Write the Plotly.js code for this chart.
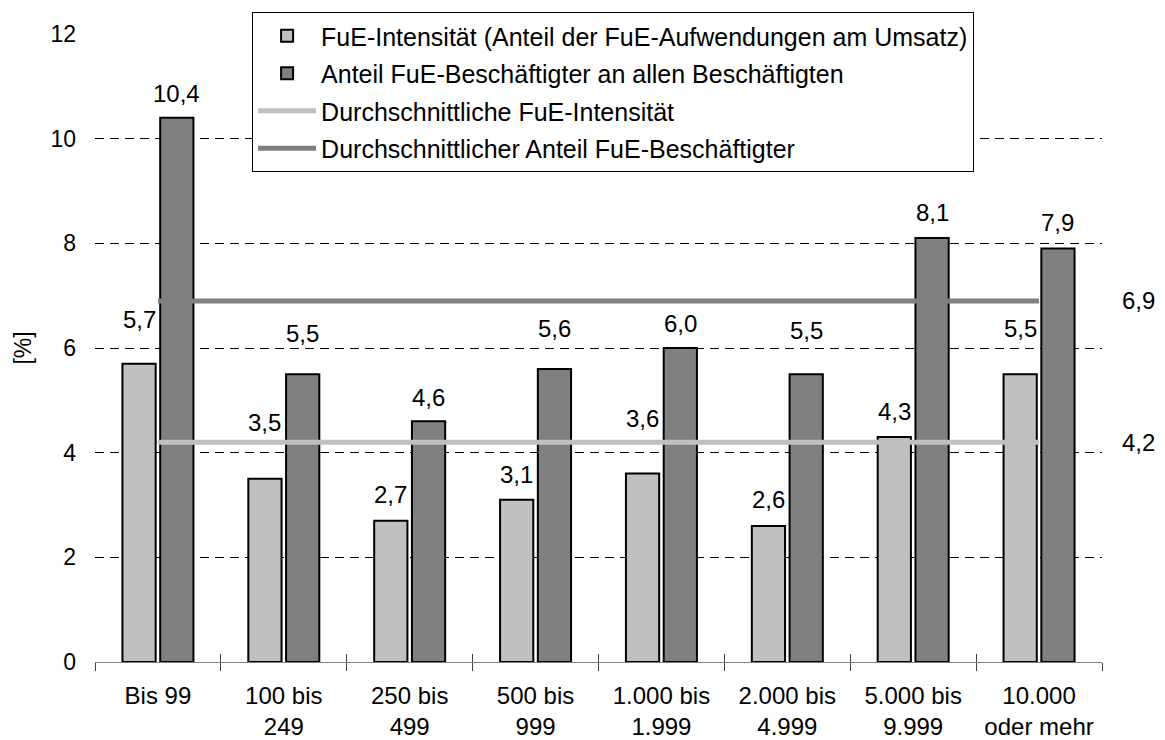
<!DOCTYPE html>
<html>
<head>
<meta charset="utf-8">
<script src="https://cdn.plot.ly/plotly-3.0.1.min.js"></script>
<style>html,body{margin:0;padding:0;background:#fff;}#chart{width:1165px;height:740px;}</style>
</head>
<body>
<div id="chart"></div>
<script>
// ---- data ----
const categories = ["Bis 99", "100 bis<br>249", "250 bis<br>499", "500 bis<br>999", "1.000 bis<br>1.999", "2.000 bis<br>4.999", "5.000 bis<br>9.999", "10.000<br>oder mehr"];
const intensity = [5.7, 3.5, 2.7, 3.1, 3.6, 2.6, 4.3, 5.5];
const staffShare = [10.4, 5.5, 4.6, 5.6, 6.0, 5.5, 8.1, 7.9];
const avgIntensity = 4.2;
const avgStaffShare = 6.9;
const seriesNames = [
  "FuE-Intensität (Anteil der FuE-Aufwendungen am Umsatz)",
  "Anteil FuE-Beschäftigter an allen Beschäftigten",
  "Durchschnittliche FuE-Intensität",
  "Durchschnittlicher Anteil FuE-Beschäftigter"
];
const yTicks = [0, 2, 4, 6, 8, 10, 12];

// ---- style ----
const FONT = "'Liberation Sans', Arial, sans-serif";
const lightGray = "#C0C0C0";
const darkGray = "#808080";
// label lift in pixels above the bar top (labels moved clear of lines)
const liftLight = [44, 56, 26, 25, 55, 26, 25, 46];
const liftDark = [24, 41, 24, 40, 25, 44, 26, 26];

const fmt = v => v.toFixed(1).replace(".", ",");

const W = 1165, H = 740;
const margin = {l: 95, r: 63, t: 32, b: 78};
const plotW = W - margin.l - margin.r;
const bargap = 0.4, bargroupgap = 0.12;
const slot = plotW / categories.length * (1 - bargap) / 2;

const traces = [
  {type: "bar", x: categories, y: intensity, name: seriesNames[0], legendgroup: "a",
   marker: {color: lightGray, line: {color: "#000", width: 2}}, hoverinfo: "skip"},
  {type: "bar", x: categories, y: staffShare, name: seriesNames[1], legendgroup: "b",
   marker: {color: darkGray, line: {color: "#000", width: 2}}, hoverinfo: "skip"},
  {type: "scatter", mode: "lines", x: categories, y: categories.map(() => avgIntensity),
   name: seriesNames[2], legendgroup: "c", line: {color: lightGray, width: 5}, xaxis: "x2", hoverinfo: "skip"},
  {type: "scatter", mode: "lines", x: categories, y: categories.map(() => avgStaffShare),
   name: seriesNames[3], legendgroup: "d", line: {color: darkGray, width: 5}, xaxis: "x2", hoverinfo: "skip"}
];

const annotations = [];
categories.forEach((c, i) => {
  annotations.push({x: c, y: intensity[i], xref: "x", yref: "y", text: fmt(intensity[i]),
    showarrow: false, xshift: -slot / 2, yshift: liftLight[i], yanchor: "middle",
    font: {family: FONT, size: 24, color: "#000"}});
  annotations.push({x: c, y: staffShare[i], xref: "x", yref: "y", text: fmt(staffShare[i]),
    showarrow: false, xshift: slot / 2, yshift: liftDark[i], yanchor: "middle",
    font: {family: FONT, size: 24, color: "#000"}});
});
[avgStaffShare, avgIntensity].forEach(v => {
  annotations.push({x: 1, xref: "paper", y: v, yref: "y", text: fmt(v), showarrow: false,
    xanchor: "left", xshift: 18, yanchor: "middle", font: {family: FONT, size: 24, color: "#000"}});
});

const layout = {
  width: W, height: H, margin: margin,
  paper_bgcolor: "#fff", plot_bgcolor: "#fff",
  font: {family: FONT, size: 24, color: "#000"},
  barmode: "group", bargap: bargap, bargroupgap: bargroupgap,
  showlegend: true,
  legend: {x: 0.156, y: 1.035, xanchor: "left", yanchor: "top", bgcolor: "#fff",
    bordercolor: "#000", borderwidth: 1, font: {family: FONT, size: 25, color: "#000"},
    itemwidth: 58, tracegroupgap: 2, traceorder: "grouped"},
  xaxis: {type: "category", categoryarray: categories, categoryorder: "array",
    range: [-0.5, categories.length - 0.5], tickson: "boundaries", ticks: "outside",
    ticklen: 8, tickcolor: "#404040", showline: true, linecolor: "#808080", linewidth: 1,
    showgrid: false, zeroline: false, ticklabelstandoff: 12,
    tickfont: {family: FONT, size: 24, color: "#000"}, fixedrange: true},
  xaxis2: {type: "category", categoryarray: categories, categoryorder: "array",
    overlaying: "x", anchor: "y", side: "bottom",
    range: [-0.5, categories.length - 0.5], tickson: "boundaries", ticks: "inside",
    ticklen: 8, tickcolor: "#404040", showline: false, showgrid: false, zeroline: false,
    showticklabels: false, fixedrange: true},
  yaxis: {range: [0, 12], tickvals: yTicks, ticktext: yTicks.map(String), showline: false,
    ticks: "", showgrid: true, gridcolor: "#000", gridwidth: 1, griddash: "9px,6px",
    zeroline: false, ticklabelstandoff: 18,
    tickfont: {family: FONT, size: 23, color: "#000"},
    title: {text: "[%]", font: {family: FONT, size: 23, color: "#000"}, standoff: 12},
    fixedrange: true},
  annotations: annotations
};

Plotly.newPlot("chart", traces, layout, {displayModeBar: false, staticPlot: true});
</script>
</body>
</html>
